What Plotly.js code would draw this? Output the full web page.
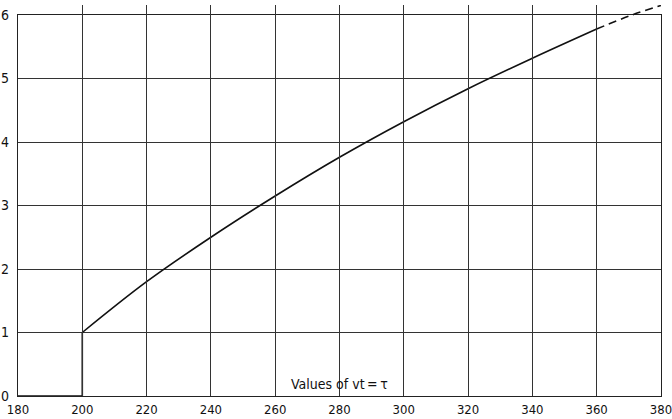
<!DOCTYPE html>
<html>
<head>
<meta charset="utf-8">
<script src="https://cdn.plot.ly/plotly-3.0.1.min.js"></script>
<style>html,body{margin:0;padding:0;background:#fff;}#chart{width:672px;height:419px;}</style>
</head>
<body>
<div id="chart"></div>
<script>
// Step part: zero up to 200, jump to 1 at 200
const stepX = [180, 200, 200];
const stepY = [0, 0, 1];
// Solid curve
const curveX = [200, 220, 240, 260, 280, 300, 320, 340, 360];
const curveY = [1.0, 1.80, 2.50, 3.15, 3.76, 4.32, 4.84, 5.32, 5.78];
// Dashed extrapolation
const dashX = [360, 371, 380];
const dashY = [5.78, 6.0, 6.15];
// Ticks
const xTicks = [180, 200, 220, 240, 260, 280, 300, 320, 340, 360, 380];
const yTicks = [0, 1, 2, 3, 4, 5, 6];
const xTitle = 'Values of vt\u2009=\u2009τ';

const FONT = '"DejaVu Sans Condensed", "Liberation Sans Narrow", "Arial Narrow", sans-serif';
const H = 419, T = 5, B = 23;
const plotH = H - T - B;
const yTopPx = 15;
const domTop = (H - B - yTopPx) / plotH;

const LINE = {color: '#111', width: 1.6};
const traces = [
  {x: stepX, y: stepY, mode: 'lines', line: LINE, xaxis: 'x', yaxis: 'y', hoverinfo: 'skip'},
  {x: curveX, y: curveY, mode: 'lines', line: Object.assign({shape: 'spline', smoothing: 1}, LINE), xaxis: 'x', yaxis: 'y', hoverinfo: 'skip'},
  {x: dashX, y: dashY, mode: 'lines', line: {color: '#111', width: 1.6, dash: '8px,5px', shape: 'spline', smoothing: 1}, xaxis: 'x', yaxis: 'y2', hoverinfo: 'skip'}
];

const layout = {
  width: 672, height: 419,
  margin: {l: 18, r: 11, t: T, b: B},
  paper_bgcolor: '#fff', plot_bgcolor: 'rgba(0,0,0,0)',
  showlegend: false,
  font: {family: FONT, color: '#111', size: 14},
  xaxis: {
    range: [180, 380.02], tickvals: xTicks, ticktext: xTicks.map(String),
    showgrid: true, gridcolor: '#333', gridwidth: 1,
    zeroline: false, showline: true, mirror: true, linecolor: '#222', linewidth: 1.2,
    ticks: '', ticklabelstandoff: 1, ticklabeloverflow: 'allow',
    tickfont: {family: FONT, size: 13, color: '#111'}, fixedrange: true
  },
  yaxis: {
    domain: [0, domTop], range: [0, 6], tickvals: yTicks, ticktext: yTicks.map(String),
    showgrid: true, gridcolor: '#333', gridwidth: 1,
    zeroline: false, showline: true, mirror: true, linecolor: '#222', linewidth: 1.2,
    ticks: '', ticklabelstandoff: 5, ticklabeloverflow: 'allow',
    tickfont: {family: FONT, size: 14, color: '#111'}, fixedrange: true
  },
  yaxis2: {
    domain: [0, 1], range: [0, 6 / domTop], anchor: 'x',
    visible: false, showgrid: false, zeroline: false, fixedrange: true
  },
  annotations: [{
    text: xTitle, xref: 'paper', yref: 'paper', x: 0.5, y: 0.0,
    xanchor: 'center', yanchor: 'bottom', yshift: 2, showarrow: false,
    font: {family: FONT, size: 14, color: '#111'}
  }]
};

Plotly.newPlot('chart', traces, layout, {displayModeBar: false, staticPlot: true});
</script>
</body>
</html>
